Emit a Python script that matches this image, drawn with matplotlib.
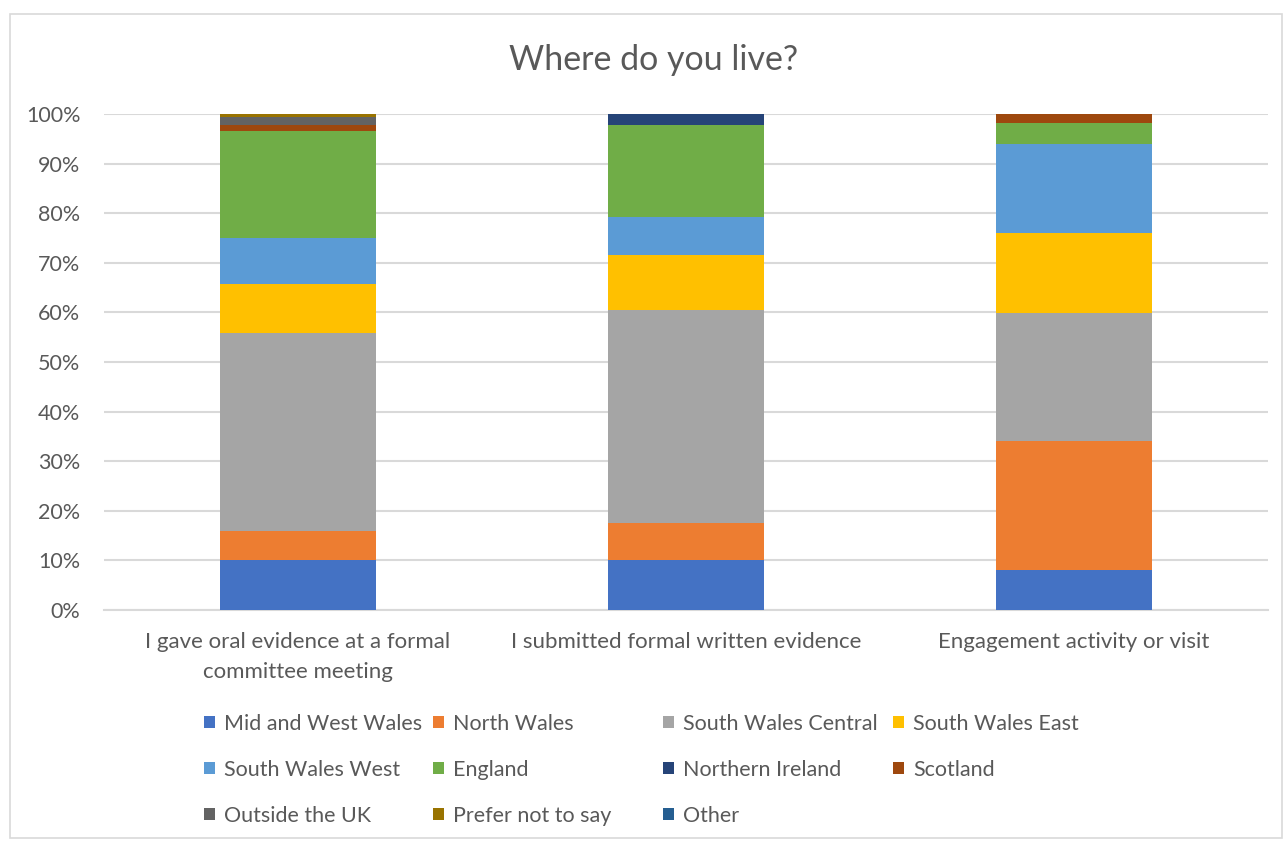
import numpy as np
import matplotlib
matplotlib.use("Agg")
import matplotlib.pyplot as plt
from matplotlib.patches import Rectangle, Patch

plt.rcParams['font.family'] = ['Lato', 'DejaVu Sans']

# Categories and series (share of respondents, %)
categories = ["I gave oral evidence at a formal\ncommittee meeting",
              "I submitted formal written evidence",
              "Engagement activity or visit"]
regions = ["Mid and West Wales", "North Wales", "South Wales Central", "South Wales East",
           "South Wales West", "England", "Northern Ireland", "Scotland",
           "Outside the UK", "Prefer not to say", "Other"]
mid_west   = [10.0, 10.0, 8.1]
north      = [6.0, 7.5, 26.0]
sw_central = [39.8, 43.0, 25.8]
sw_east    = [10.0, 11.1, 16.1]
sw_west    = [9.3, 7.6, 18.0]
england    = [21.5, 18.6, 4.1]
n_ireland  = [0.0, 2.2, 0.0]
scotland   = [1.2, 0.0, 1.9]
outside_uk = [1.6, 0.0, 0.0]
prefer_not = [0.6, 0.0, 0.0]
other      = [0.0, 0.0, 0.0]

series = [mid_west, north, sw_central, sw_east, sw_west, england,
          n_ireland, scotland, outside_uk, prefer_not, other]
colors = ["#4472C4", "#ED7D31", "#A5A5A5", "#FFC000", "#5B9BD5", "#70AD47",
          "#264478", "#9E480E", "#636363", "#997300", "#255E91"]

W, H = 1285, 841
fig = plt.figure(figsize=(W / 100, H / 100), dpi=100)
fig.patches.append(Rectangle((10 / W, 3 / H), 1272 / W, 824 / H, transform=fig.transFigure,
                             fill=False, edgecolor="#D9D9D9", linewidth=1.2))

ax = fig.add_axes([104 / W, (H - 610) / H, 1164 / W, 496 / H])

x = np.arange(len(categories))
bottom = np.zeros(len(categories))
for vals, col in zip(series, colors):
    v = np.array(vals) / 100
    ax.bar(x, v, 0.4, bottom=bottom, color=col, zorder=3)
    bottom += v

ax.set_xlim(-0.5, len(categories) - 0.5)
ax.set_ylim(0, 1)
ax.set_yticks(np.arange(0, 1.01, 0.1))
ax.set_yticklabels([f"{int(round(t * 100))}%" for t in np.arange(0, 1.01, 0.1)])
ax.yaxis.grid(True, color="#D9D9D9", linewidth=1.5, zorder=0)
ax.set_xticks(x)
ax.set_xticklabels(categories, linespacing=1.6)
ax.tick_params(axis="both", length=0, colors="#595959", labelsize=15.5)
ax.tick_params(axis="y", pad=17)
ax.tick_params(axis="x", labelsize=16, pad=16)
for s in ["top", "right", "left"]:
    ax.spines[s].set_visible(False)
ax.spines["bottom"].set_color("#D9D9D9")
ax.spines["bottom"].set_linewidth(1.5)

fig.text(654 / W, 1 - 60 / H, "Where do you live?", ha="center", va="center",
         fontsize=24.5, color="#595959")

# legend: Excel fills rows left-to-right, 4 fixed-width columns
handles = [Patch(facecolor=c) for c in colors]
col_x = [204, 433, 663, 893]
for j in range(4):
    idx = list(range(j, len(regions), 4))
    leg = fig.legend([handles[i] for i in idx], [regions[i] for i in idx],
                     loc="upper left", bbox_to_anchor=(col_x[j] / W, 1 - 714 / H),
                     frameon=False, fontsize=15.5, handlelength=0.5, handleheight=0.5,
                     handletextpad=0.45, labelspacing=1.2, borderaxespad=0, borderpad=0,
                     labelcolor="#595959")

fig.savefig("out.png", dpi=100)
